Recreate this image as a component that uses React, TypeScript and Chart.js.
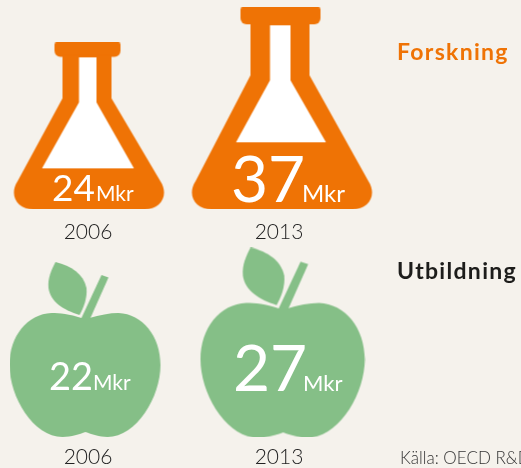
import React, { useEffect, useRef } from "react";
import { Chart, registerables } from "chart.js";

Chart.register(...registerables);

const years = ["2006", "2013"];
const researchValues = [24, 37];
const educationValues = [22, 27];
const unit = "Mkr";
const researchName = "Forskning";
const educationName = "Utbildning";
const sourceNote = "Källa: OECD R&D";

const ORANGE = "#ef7305";
const GREEN = "#85bf87";
const BG = "#f5f2ec";
const INK = "#222222";
const FONT = "Lato, 'Open Sans', sans-serif";

type Flask = {
  w: number; h: number; dx: number; rimL: number; rimR: number; rimH: number;
  neckL: number; neckR: number; shoulder: number; inTop: number; inL: number; inR: number;
  inShoulder: number; triL: number; triR: number; triY: number;
};

const flaskShapes: Flask[] = [
  { w: 151, h: 167, dx: 1.5, rimL: 41, rimR: 107, rimH: 14.5, neckL: 49, neckR: 98, shoulder: 56, inTop: 15, inL: 65.5, inR: 83, inShoulder: 60, triL: 28.5, triR: 120.5, triY: 126 },
  { w: 181, h: 202, dx: 3.5, rimL: 49, rimR: 129, rimH: 17, neckL: 59, neckR: 118, shoulder: 68, inTop: 18, inL: 78.5, inR: 99, inShoulder: 73, triL: 44.5, triR: 134.5, triY: 135 },
];

const appleScales = [1, 1.088];
const appleOffsets = [-3, 4];

function makeFlask(f: Flask): HTMLCanvasElement {
  const c = document.createElement("canvas");
  const pad = Math.ceil(Math.abs(f.dx)) * 2;
  c.width = f.w + pad;
  c.height = f.h;
  const g = c.getContext("2d")!;
  g.translate(f.dx * 2, 0);
  g.fillStyle = ORANGE;
  g.beginPath();
  g.roundRect(f.rimL, 0, f.rimR - f.rimL, f.rimH, [2, 2, 6, 6]);
  g.fill();
  g.beginPath();
  g.moveTo(f.neckL, f.rimH - 2);
  g.lineTo(f.neckL, f.shoulder);
  g.lineTo(4, f.h - 28);
  g.bezierCurveTo(-5, f.h - 14, 4, f.h, 20, f.h);
  g.lineTo(f.w - 20, f.h);
  g.bezierCurveTo(f.w - 4, f.h, f.w + 5, f.h - 14, f.w - 4, f.h - 28);
  g.lineTo(f.neckR, f.shoulder);
  g.lineTo(f.neckR, f.rimH - 2);
  g.closePath();
  g.fill();
  g.fillStyle = "#ffffff";
  g.beginPath();
  g.moveTo(f.inL, f.inTop);
  g.lineTo(f.inR, f.inTop);
  g.lineTo(f.inR, f.inShoulder);
  g.lineTo(f.triR, f.triY);
  g.lineTo(f.triL, f.triY);
  g.lineTo(f.inL, f.inShoulder);
  g.closePath();
  g.fill();
  return c;
}

function makeApple(scale: number, dx: number): HTMLCanvasElement {
  const c = document.createElement("canvas");
  const w = Math.ceil(151 * scale);
  const h = Math.round(175 * scale);
  const pad = Math.ceil(Math.abs(dx)) * 2;
  c.width = w + pad;
  c.height = h;
  const g = c.getContext("2d")!;
  g.translate(dx < 0 ? 0 : dx * 2, 0);
  g.scale(scale, scale);
  g.fillStyle = GREEN;
  // body
  g.beginPath();
  g.moveTo(72, 56);
  g.bezierCurveTo(60, 52, 50, 51, 42, 51);
  g.bezierCurveTo(18, 52, 0, 74, 0, 103);
  g.bezierCurveTo(0, 135, 24, 175, 53, 175);
  g.bezierCurveTo(62, 175, 70, 172, 76, 170);
  g.bezierCurveTo(82, 172, 90, 175, 98, 175);
  g.bezierCurveTo(127, 175, 151, 135, 151, 103);
  g.bezierCurveTo(151, 74, 133, 52, 109, 51);
  g.bezierCurveTo(100, 51, 90, 53, 80, 56);
  g.closePath();
  g.fill();
  // stem
  g.beginPath();
  g.moveTo(71.5, 57);
  g.lineTo(92, 13);
  g.lineTo(99, 15.5);
  g.lineTo(80.5, 57);
  g.closePath();
  g.fill();
  // leaf
  g.beginPath();
  g.moveTo(46, 0);
  g.bezierCurveTo(62, 4, 74, 12, 77, 26);
  g.bezierCurveTo(78, 36, 74, 46, 70, 53);
  g.bezierCurveTo(54, 48, 41, 40, 39, 26);
  g.bezierCurveTo(38, 16, 42, 8, 46, 0);
  g.closePath();
  g.fill();
  return c;
}

type LabelStyle = { size: number; unitSize: number; numDx: number; unitDx: number; dy: number };

const researchLabels: LabelStyle[] = [
  { size: 37, unitSize: 21, numDx: -36, unitDx: 8, dy: 75.5 },
  { size: 64, unitSize: 24, numDx: -48, unitDx: 23, dy: 94 },
];
const educationLabels: LabelStyle[] = [
  { size: 38, unitSize: 21, numDx: -39, unitDx: 5, dy: 40.5 },
  { size: 64, unitSize: 22, numDx: -46, unitDx: 24, dy: 49 },
];

function makeLabelPlugin(styles: LabelStyle[], nameColor: string, nameY: number, note?: string) {
  return {
    id: "marks",
    afterDatasetsDraw(chart: any) {
      const ctx = chart.ctx;
      const meta = chart.getDatasetMeta(0);
      const ds = chart.data.datasets[0];
      ctx.save();
      ctx.textAlign = "left";
      ctx.textBaseline = "alphabetic";
      meta.data.forEach((pt: any, i: number) => {
        const s = styles[i];
        ctx.fillStyle = "#ffffff";
        ctx.font = `400 ${s.size}px ${FONT}`;
        ctx.fillText(String(ds.data[i]), pt.x + s.numDx, pt.y + s.dy);
        ctx.font = `400 ${s.unitSize}px ${FONT}`;
        ctx.fillText(unit, pt.x + s.unitDx, pt.y + s.dy);
      });
      ctx.fillStyle = nameColor;
      ctx.font = `700 23px ${FONT}`;
      ctx.letterSpacing = "1.3px";
      ctx.fillText(ds.label, 397, nameY);
      ctx.letterSpacing = "0px";
      if (note) {
        ctx.fillStyle = "#333333";
        ctx.font = `300 17px ${FONT}`;
        ctx.fillText(note, 400, 219);
      }
      ctx.restore();
    },
  };
}

function makeChart(
  canvas: HTMLCanvasElement,
  label: string,
  values: number[],
  icons: HTMLCanvasElement[],
  yMin: number,
  yMax: number,
  axisHeight: number,
  plugin: any,
) {
  return new Chart(canvas, {
    type: "line",
    data: {
      labels: years,
      datasets: [
        {
          label,
          data: values,
          showLine: false,
          clip: false,
          pointStyle: icons as any,
          pointRadius: 10,
        },
      ],
    },
    options: {
      responsive: false,
      animation: false,
      events: [],
      layout: { padding: { left: 88, right: 242, top: 0, bottom: 0 } },
      plugins: { legend: { display: false }, tooltip: { enabled: false } },
      scales: {
        x: {
          type: "category",
          offset: false,
          border: { display: false },
          grid: { display: false, drawTicks: false },
          ticks: { padding: 2, color: INK, autoSkip: false, maxRotation: 0, font: { family: FONT, size: 21, weight: 300 } },
          afterFit(scale: any) {
            scale.height = axisHeight;
          },
        },
        y: { display: false, min: yMin, max: yMax },
      },
    },
    plugins: [plugin],
  } as any);
}

export default function App() {
  const topRef = useRef<HTMLCanvasElement>(null);
  const bottomRef = useRef<HTMLCanvasElement>(null);

  useEffect(() => {
    const top = makeChart(
      topRef.current!,
      researchName,
      researchValues,
      flaskShapes.map(makeFlask),
      -44.2,
      109,
      27,
      makeLabelPlugin(researchLabels, ORANGE, 60),
    );
    const bottom = makeChart(
      bottomRef.current!,
      educationName,
      educationValues,
      appleScales.map((s, i) => makeApple(s, appleOffsets[i])),
      -44.03,
      88,
      25,
      makeLabelPlugin(educationLabels, "#1d1d1b", 34, sourceNote),
    );
    return () => {
      top.destroy();
      bottom.destroy();
    };
  }, []);

  return (
    <div style={{ position: "absolute", left: 0, top: 0, width: 521, height: 468, background: BG, overflow: "hidden" }}>
      <canvas ref={topRef} width={521} height={245} style={{ position: "absolute", left: 0, top: 0, display: "block" }} />
      <canvas ref={bottomRef} width={521} height={223} style={{ position: "absolute", left: 0, top: 245, display: "block" }} />
    </div>
  );
}
